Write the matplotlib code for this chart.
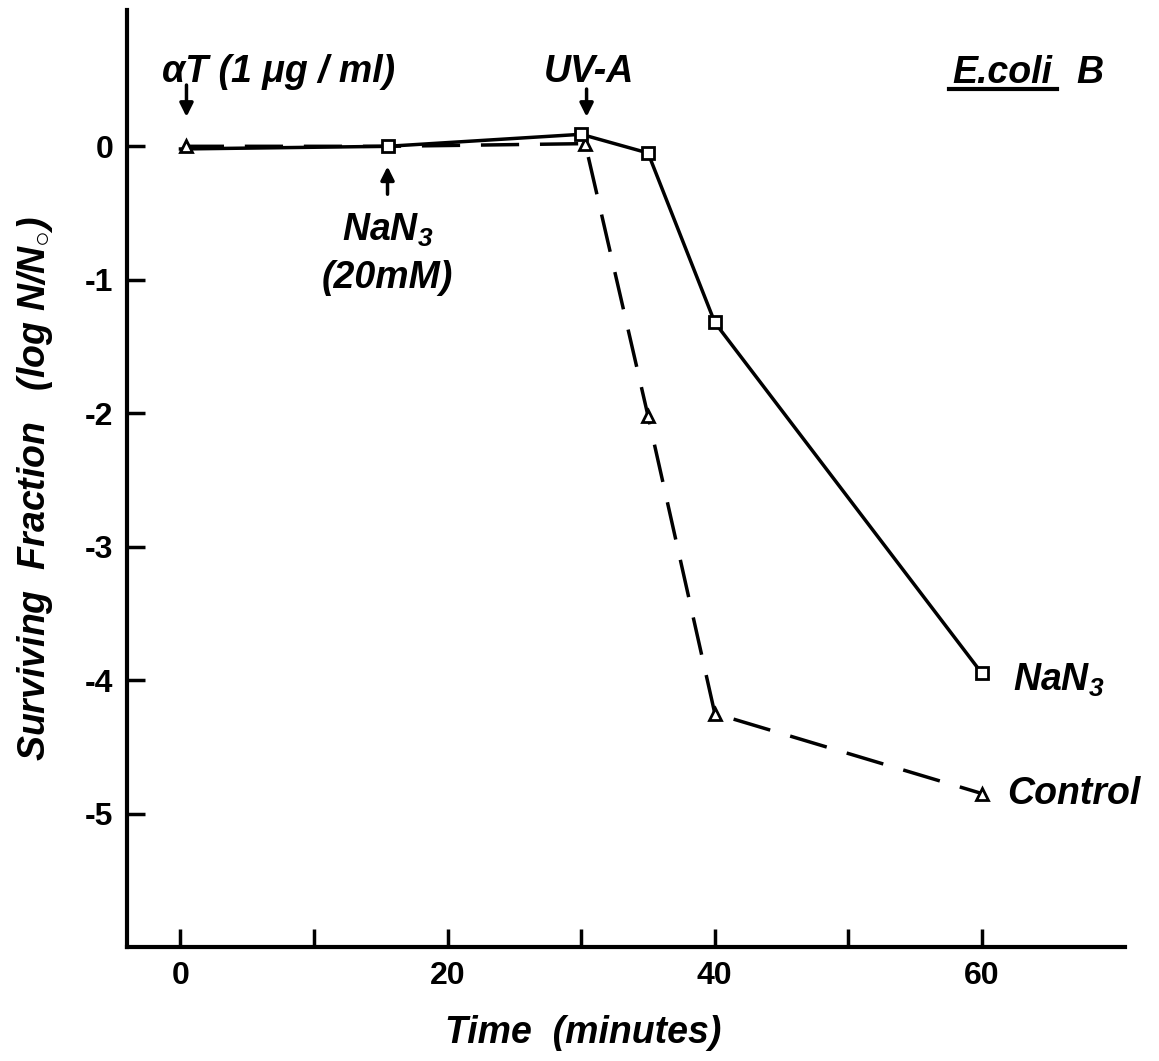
import matplotlib
matplotlib.use("Agg")
import matplotlib.pyplot as plt

# Data
nan3_t = [0, 15.5, 30, 35, 40, 60]
nan3_y = [-0.02, 0.0, 0.09, -0.05, -1.32, -3.95]
nan3_mark = [False, True, True, True, True, True]

ctrl_t = [0.4, 15.5, 30.3, 35, 40, 60]
ctrl_y = [0.0, 0.0, 0.02, -2.02, -4.25, -4.85]
ctrl_mark = [True, False, True, True, True, True]

xticks = [0, 10, 20, 30, 40, 50, 60]
xlabels = ["0", "", "20", "", "40", "", "60"]
yticks = [0, -1, -2, -3, -4, -5]

plt.rcParams['font.family'] = ['Liberation Sans', 'DejaVu Sans']
plt.rcParams['mathtext.fontset'] = 'custom'
plt.rcParams['mathtext.rm'] = 'Liberation Sans:bold:italic'
plt.rcParams['mathtext.it'] = 'Liberation Sans:bold:italic'
plt.rcParams['mathtext.bf'] = 'Liberation Sans:bold:italic'
plt.rcParams['mathtext.fallback'] = 'stixsans'

fig = plt.figure(figsize=(11.59, 10.61), dpi=100)
ax = fig.add_axes([0.1096, 0.1074, 0.861, 0.883])

ax.plot(ctrl_t, ctrl_y, color='black', lw=2.5, dashes=(11, 6), zorder=2)
ax.plot(nan3_t, nan3_y, color='black', lw=2.5, zorder=3)
ax.plot([t for t, m in zip(ctrl_t, ctrl_mark) if m],
        [y for y, m in zip(ctrl_y, ctrl_mark) if m],
        ls='none', marker='^', ms=9, mfc='white', mec='black', mew=2, zorder=4)
ax.plot([t for t, m in zip(nan3_t, nan3_mark) if m],
        [y for y, m in zip(nan3_y, nan3_mark) if m],
        ls='none', marker='s', ms=9, mfc='white', mec='black', mew=2, zorder=5)

ax.set_xlim(-4, 70.7)
ax.set_ylim(-6.0, 1.02)
for s in ['top', 'right']:
    ax.spines[s].set_visible(False)
for s in ['left', 'bottom']:
    ax.spines[s].set_linewidth(3)

ax.set_xticks(xticks)
ax.set_xticklabels(xlabels)
ax.set_yticks(yticks)
ax.set_yticklabels([str(v) for v in yticks])
ax.tick_params(direction='in', length=13, width=2.5, labelsize=23, pad=10)
for lab in ax.get_xticklabels() + ax.get_yticklabels():
    lab.set_fontweight('bold')

tfont = dict(fontsize=27, fontweight='bold', fontstyle='italic')

# axis titles
fig.text(0.503, 0.026, 'Time  (minutes)', ha='center', va='center', **tfont)
fig.text(0.03, 0.54, r'Surviving  Fraction   (log N/N$_{\bigcirc}$)',
         rotation=90, ha='center', va='center', **tfont)

# arrows and annotation text
arrow = dict(arrowstyle='-|>', color='black', lw=2.5, mutation_scale=20)
ax.annotate('', xy=(0.45, 0.2), xytext=(0.45, 0.48), arrowprops=arrow)
ax.text(-1.35, 0.555, 'αT (1 μg / ml)', ha='left', va='center', **tfont)

ax.annotate('', xy=(30.4, 0.2), xytext=(30.4, 0.45), arrowprops=arrow)
ax.text(30.6, 0.555, 'UV-A', ha='center', va='center', **tfont)

ax.annotate('', xy=(15.5, -0.13), xytext=(15.5, -0.38), arrowprops=arrow)
ax.text(15.5, -0.63, 'NaN$_3$', ha='center', va='center', **tfont)
ax.text(15.5, -0.99, '(20mM)', ha='center', va='center', **tfont)

# series labels
ax.text(62.3, -4.0, 'NaN$_3$', ha='left', va='center', **tfont)
ax.text(61.9, -4.85, 'Control', ha='left', va='center', **tfont)

# strain label
ax.text(57.8, 0.55, 'E.coli', ha='left', va='center', **tfont)
ax.plot([57.5, 65.6], [0.43, 0.43], color='black', lw=3, clip_on=False)
ax.text(68.1, 0.55, 'B', ha='center', va='center', **tfont)

fig.savefig('out.png', dpi=100)
